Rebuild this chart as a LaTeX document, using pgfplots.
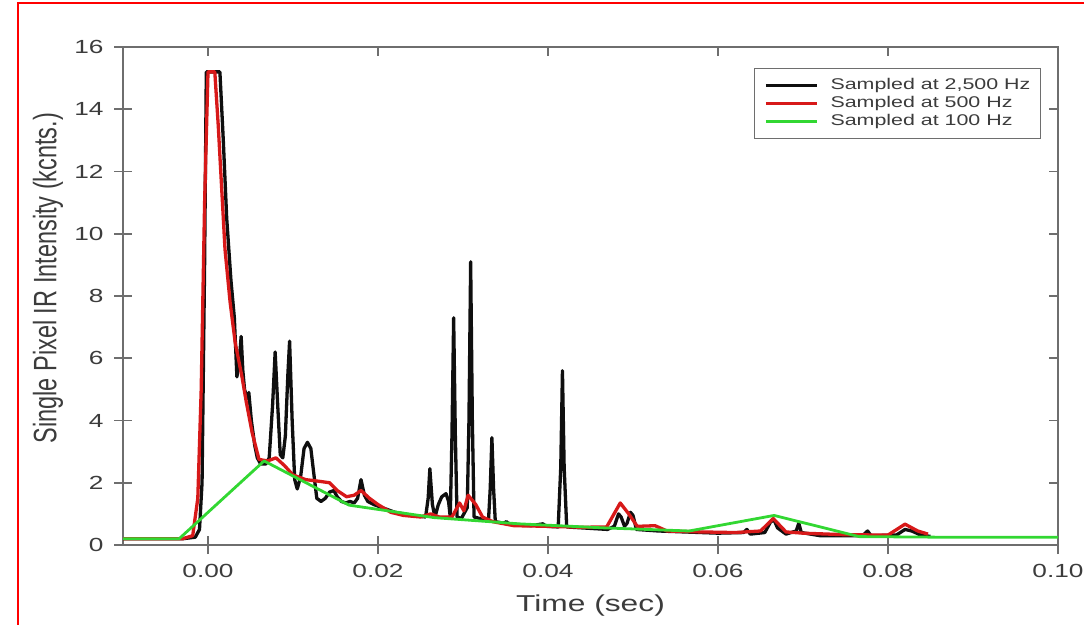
\documentclass[border=0pt]{standalone}
\usepackage{pgfplots}
\pgfplotsset{compat=1.18}
\usepackage{fontspec}
\setmainfont{Liberation Sans}
\usepackage{graphicx}
\newcommand\sx[1]{\scalebox{1.38}[1]{#1}}
\definecolor{cblk}{RGB}{15,15,15}
\definecolor{cred}{RGB}{215,25,25}
\definecolor{cgrn}{RGB}{50,215,50}
\definecolor{axgray}{RGB}{110,110,110}
\definecolor{txtgray}{RGB}{60,60,60}

\pgfplotstableread{
t v
-0.0100 0.20
-0.0030 0.20
-0.0015 0.25
-0.0010 0.50
-0.0007 2.0
-0.0004 9.0
-0.0002 15.2
0.0014 15.2
0.0018 13.0
0.0022 10.5
0.0027 8.5
0.0031 7.3
0.0034 5.4
0.0037 6.0
0.0039 6.7
0.0041 5.6
0.0043 5.0
0.0046 4.7
0.0048 4.9
0.0051 4.0
0.0055 3.2
0.0058 2.8
0.0062 2.6
0.0068 2.6
0.0072 2.8
0.0076 4.5
0.0079 6.2
0.0082 4.5
0.0085 2.9
0.0088 2.8
0.0091 3.5
0.0094 5.5
0.0096 6.55
0.0099 4.0
0.0102 2.1
0.0105 1.8
0.0109 2.2
0.0113 3.1
0.0117 3.3
0.0121 3.1
0.0124 2.4
0.0128 1.5
0.0133 1.4
0.0138 1.5
0.0143 1.7
0.0148 1.75
0.0152 1.55
0.0157 1.4
0.0162 1.35
0.0167 1.4
0.0172 1.35
0.0176 1.5
0.0180 2.1
0.0184 1.6
0.0188 1.4
0.0195 1.3
0.0205 1.2
0.0220 1.05
0.0240 0.95
0.0256 0.9
0.0259 1.5
0.0261 2.45
0.0264 1.3
0.0267 0.9
0.0271 1.3
0.0275 1.55
0.0280 1.65
0.0283 1.4
0.0285 0.9
0.0287 3.5
0.0289 7.3
0.0291 3.5
0.0293 0.9
0.0298 0.85
0.0305 1.2
0.0307 4.0
0.0309 9.1
0.0311 4.0
0.0313 0.9
0.0320 0.85
0.0330 0.8
0.0332 1.8
0.0334 3.45
0.0336 1.8
0.0338 0.75
0.0348 0.7
0.0351 0.75
0.0354 0.68
0.0380 0.62
0.0394 0.68
0.0398 0.6
0.0412 0.58
0.0415 2.5
0.0417 5.6
0.0419 2.5
0.0422 0.58
0.0440 0.55
0.0470 0.5
0.0478 0.6
0.0483 1.0
0.0486 0.9
0.0490 0.6
0.0493 0.7
0.0497 1.05
0.0500 0.95
0.0504 0.5
0.0530 0.45
0.0600 0.38
0.0630 0.4
0.0634 0.5
0.0638 0.35
0.0655 0.4
0.0662 0.75
0.0666 0.8
0.0670 0.55
0.0680 0.35
0.0692 0.45
0.0695 0.7
0.0698 0.4
0.0720 0.3
0.0770 0.3
0.0776 0.45
0.0780 0.3
0.0810 0.32
0.0820 0.5
0.0828 0.45
0.0840 0.3
0.0850 0.28
}\blackdata

\pgfplotstableread{
t v
-0.0100 0.2
-0.0030 0.2
-0.0018 0.3
-0.0012 1.5
-0.0008 5.0
-0.0004 11.0
0.0000 15.2
0.0008 15.2
0.0012 13.5
0.0016 11.5
0.0020 9.5
0.0026 7.8
0.0032 6.5
0.0040 5.4
0.0045 4.6
0.0052 3.6
0.0060 2.75
0.0070 2.7
0.0080 2.8
0.0090 2.55
0.0100 2.25
0.0115 2.1
0.0130 2.05
0.0143 2.0
0.0152 1.75
0.0163 1.55
0.0172 1.6
0.0180 1.75
0.0190 1.5
0.0200 1.3
0.0215 1.05
0.0230 0.95
0.0250 0.9
0.0262 1.0
0.0272 0.9
0.0287 0.9
0.0296 1.35
0.0301 1.1
0.0306 1.6
0.0315 1.3
0.0323 0.9
0.0335 0.75
0.0360 0.62
0.0400 0.6
0.0440 0.57
0.0469 0.58
0.0485 1.35
0.0495 1.0
0.0505 0.6
0.0526 0.62
0.0540 0.45
0.0580 0.42
0.0620 0.4
0.0650 0.45
0.0665 0.85
0.0680 0.42
0.0700 0.38
0.0750 0.33
0.0800 0.32
0.0820 0.67
0.0835 0.45
0.0847 0.35
}\reddata

\pgfplotstableread{
t v
-0.0134 0.20
-0.0034 0.20
0.0066 2.70
0.0166 1.28
0.0266 0.88
0.0366 0.68
0.0466 0.55
0.0566 0.45
0.0666 0.95
0.0766 0.27
0.0866 0.25
0.0966 0.25
0.1066 0.25
}\greendata

\begin{document}
\begin{tikzpicture}
\path[use as bounding box] (0pt,0pt) rectangle (1084pt,624pt);
\draw[red, line width=2pt] (18pt,-2pt) -- (18pt,621pt) -- (1085pt,621pt);
\begin{axis}[
  at={(123pt,79pt)}, anchor=south west,
  scale only axis, width=935pt, height=498pt,
  xmin=-0.01, xmax=0.10, ymin=0, ymax=16,
  axis line style={draw=axgray, line width=1.8pt},
  every tick/.style={draw=axgray, line width=1.6pt},
  tick align=center, major tick length=18pt,
  xtick pos=left, ytick pos=left,
  xtick={0,0.02,0.04,0.06,0.08,0.10},
  xticklabels={\sx{0.00},\sx{0.02},\sx{0.04},\sx{0.06},\sx{0.08},\sx{0.10}},
  ytick={0,2,4,6,8,10,12,14,16},
  yticklabels={\sx{0},\sx{2},\sx{4},\sx{6},\sx{8},\sx{10},\sx{12},\sx{14},\sx{16}},
  tick label style={font=\fontsize{19}{22}\selectfont, text=txtgray},
  xticklabel style={yshift=-7pt},
  yticklabel style={xshift=-7pt},
  scaled x ticks=false,
  xlabel={\sx{Time (sec)}},
  ylabel={\scalebox{1}[1.38]{Single Pixel IR Intensity (kcnts.)}},
  label style={font=\fontsize{23}{27}\selectfont, text=txtgray},
  xlabel style={at={(axis description cs:0.5,-0.1225)}, anchor=center},
  ylabel style={at={(axis description cs:-0.0802,0.536)}, anchor=center, font=\fontsize{23.5}{27}\selectfont},
  legend style={at={(0.9818,0.958)}, anchor=north east, draw=axgray, line width=1.3pt,
    fill=white, font=\fontsize{15.5}{18}\selectfont, text=txtgray,
    inner xsep=10pt, inner ysep=9.5pt, row sep=3pt, column sep=12pt,
    nodes={inner xsep=0pt, inner ysep=0pt, text height=11pt, text depth=4pt}},
  legend cell align=left,
  legend image code/.code={\draw[#1,line width=3.2pt] (0pt,0pt) -- (51pt,0pt);},
]
\addplot[cblk, line width=3.3pt, line join=round] table[x=t,y=v] {\blackdata};
\addlegendentry{\sx{Sampled at 2,500 Hz}}
\addplot[cred, line width=3.3pt, line join=round] table[x=t,y=v] {\reddata};
\addlegendentry{\sx{Sampled at 500 Hz}}
\addplot[cgrn, line width=2.8pt, line join=round] table[x=t,y=v] {\greendata};
\addlegendentry{\sx{Sampled at 100 Hz}}
\end{axis}
\begin{axis}[
  at={(123pt,79pt)}, anchor=south west,
  scale only axis, width=935pt, height=498pt,
  xmin=-0.01, xmax=0.10, ymin=0, ymax=16,
  axis line style={draw=none},
  every tick/.style={draw=axgray, line width=1.6pt},
  tick align=inside, major tick length=9pt,
  xtick pos=right, ytick pos=right,
  xtick={0,0.02,0.04,0.06,0.08,0.10},
  ytick={0,2,4,6,8,10,12,14,16},
  xticklabels={}, yticklabels={},
]
\end{axis}
\end{tikzpicture}
\end{document}
